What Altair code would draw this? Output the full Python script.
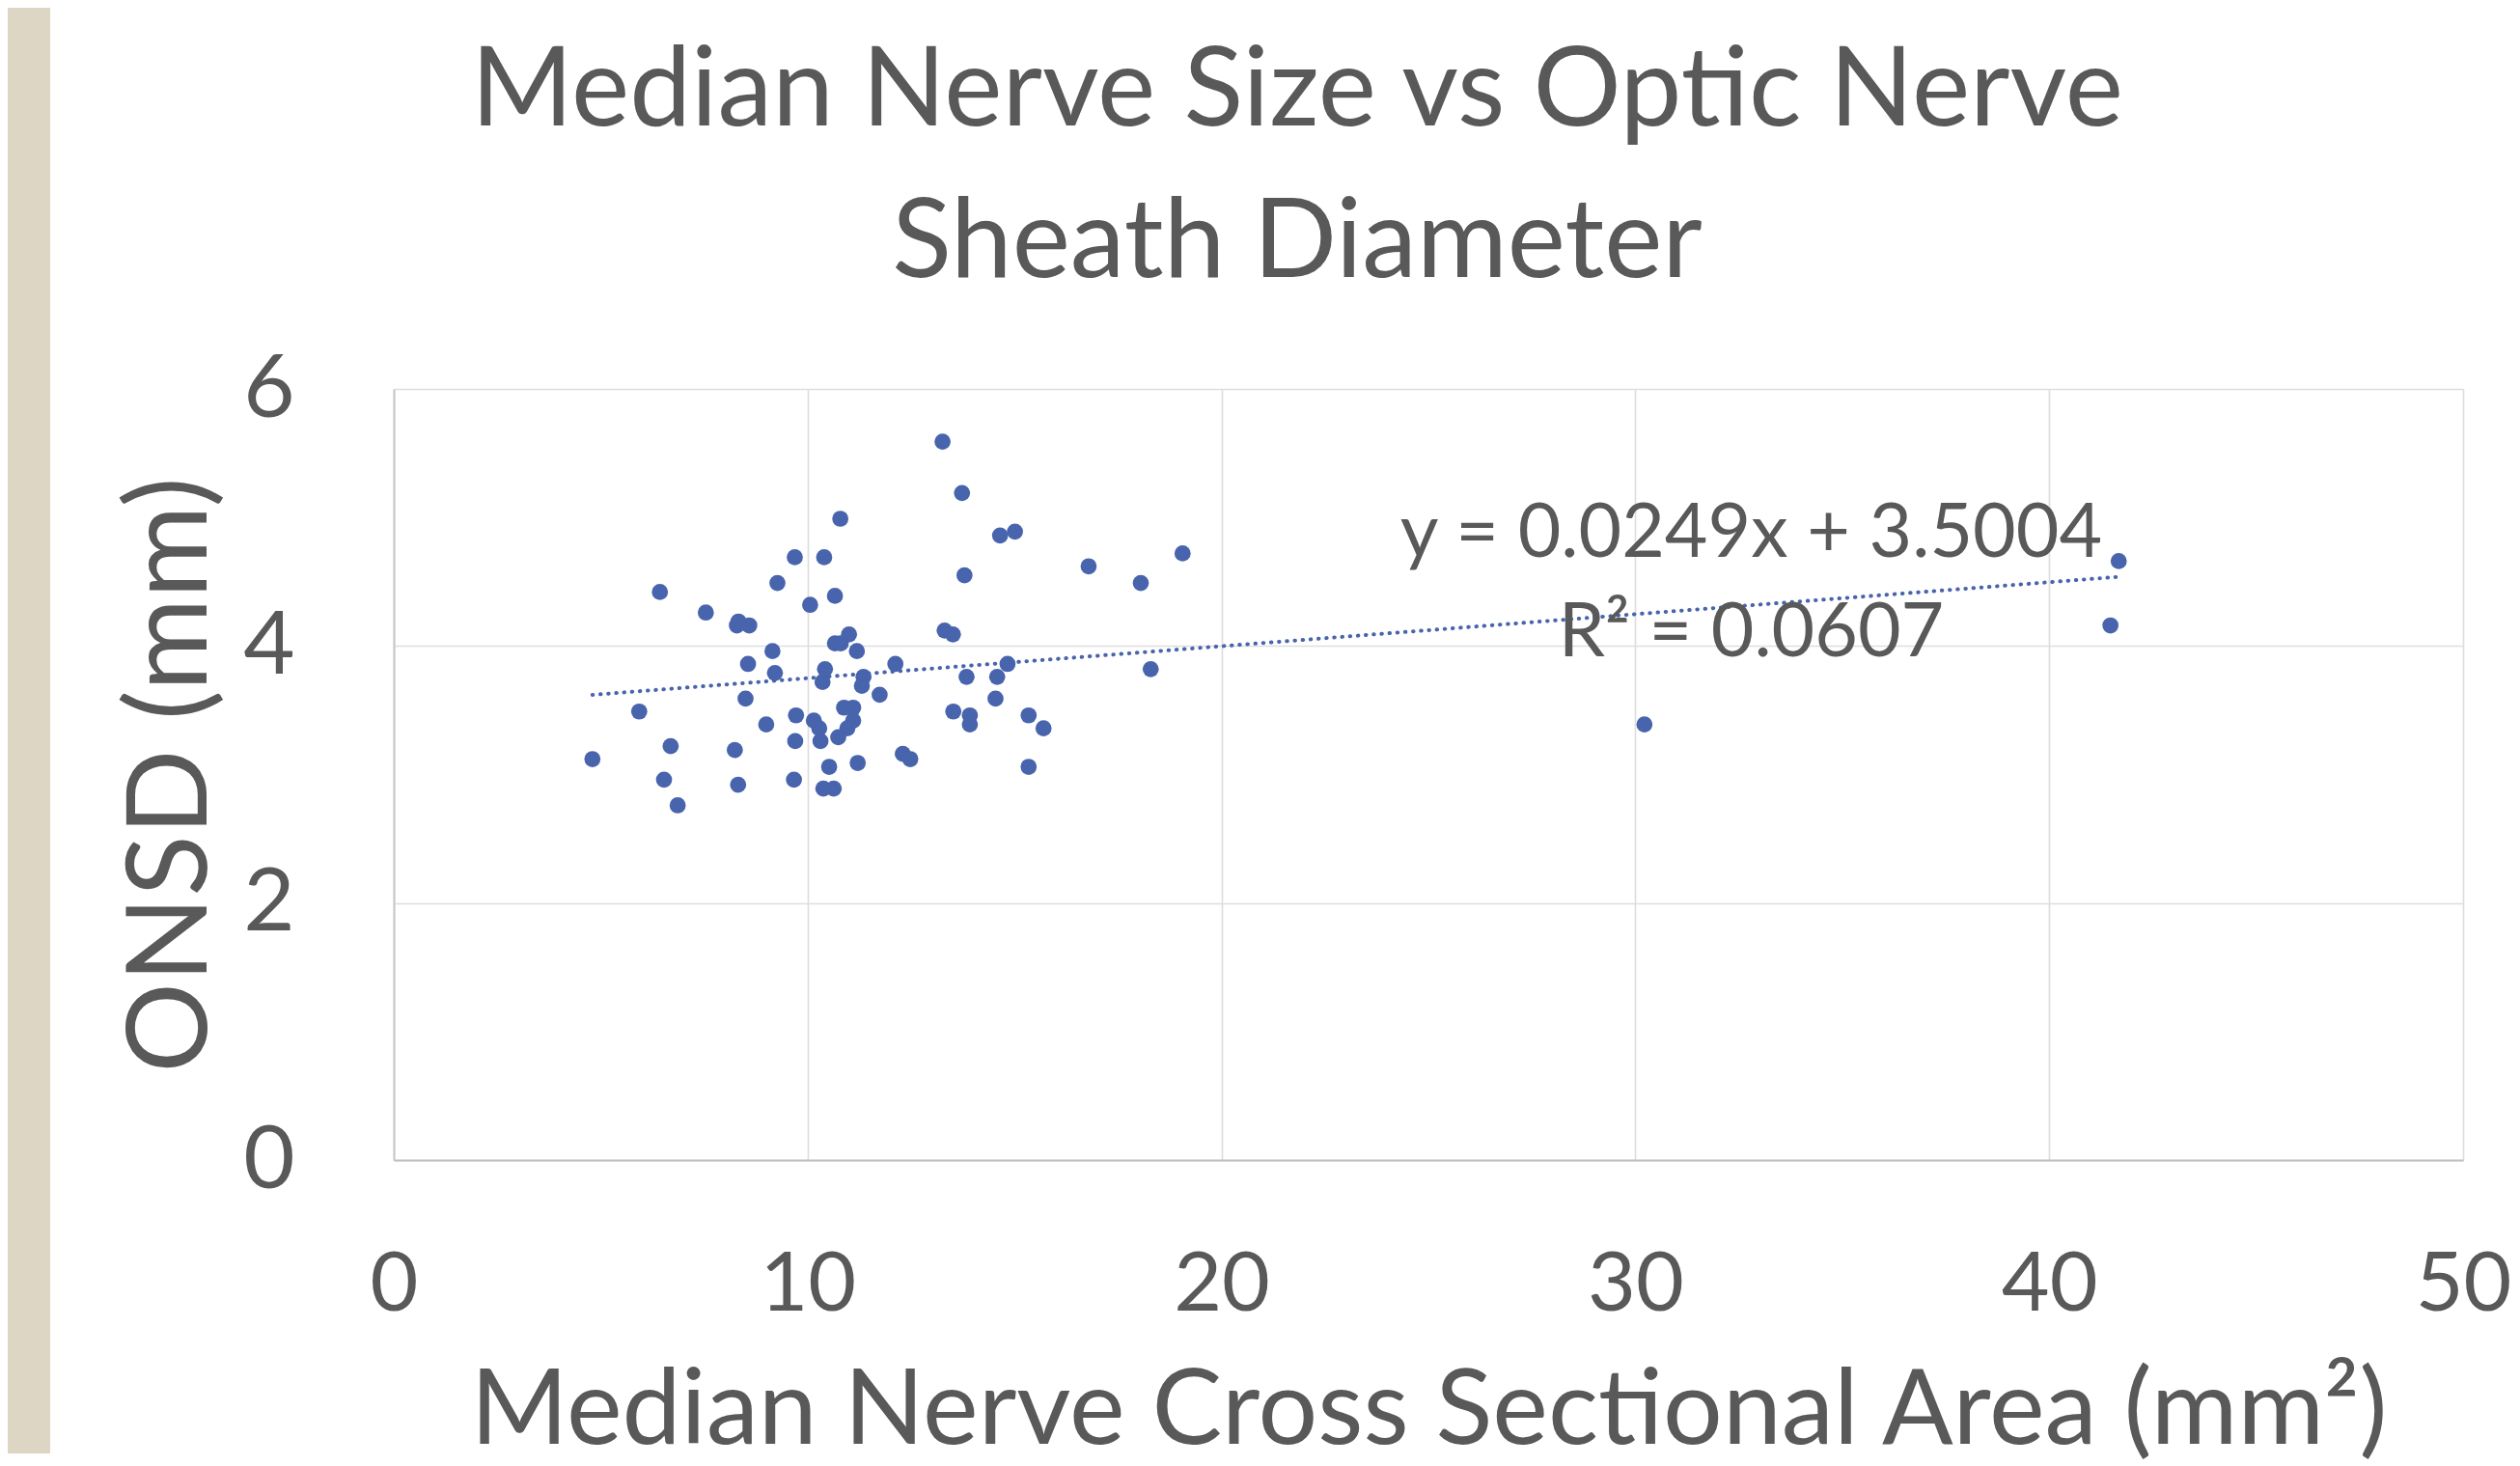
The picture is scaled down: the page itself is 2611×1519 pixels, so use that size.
import altair as alt
import pandas as pd

# Median nerve cross sectional area (mm^2)
csa = [13.26, 13.73, 10.79, 14.65, 15.01, 9.69, 10.40, 19.06, 16.79, 18.05,
       13.79, 9.27, 6.43, 10.66, 10.06, 7.54, 8.33, 8.29, 8.59, 13.31,
       13.51, 11.00, 10.66, 10.80, 9.15, 11.19, 8.56, 12.12, 14.83, 18.29,
       9.21, 10.42, 10.36, 11.35, 11.31, 13.84, 14.58, 11.74, 8.50, 14.54,
       5.93, 10.88, 11.10, 13.52, 9.72, 13.92, 15.34, 10.15, 11.10, 9.00,
       13.92, 10.28, 10.96, 15.70, 10.74, 9.70, 10.31, 6.69, 8.24, 4.80,
       12.30, 12.48, 11.21, 10.52, 15.34, 6.53, 9.67, 8.32, 10.38, 10.63,
       6.86, 41.68, 41.48, 30.22]
# Optic nerve sheath diameter (mm)
onsd = [5.59, 5.19, 4.99, 4.86, 4.89, 4.69, 4.69, 4.72, 4.62, 4.49,
        4.55, 4.49, 4.42, 4.39, 4.32, 4.26, 4.19, 4.16, 4.16, 4.12,
        4.09, 4.09, 4.02, 4.02, 3.96, 3.96, 3.86, 3.86, 3.86, 3.82,
        3.79, 3.82, 3.72, 3.76, 3.69, 3.76, 3.76, 3.62, 3.59, 3.59,
        3.49, 3.52, 3.52, 3.49, 3.46, 3.46, 3.46, 3.42, 3.42, 3.39,
        3.39, 3.36, 3.36, 3.36, 3.29, 3.26, 3.26, 3.22, 3.19, 3.12,
        3.16, 3.12, 3.09, 3.06, 3.06, 2.96, 2.96, 2.92, 2.89, 2.89,
        2.76, 4.66, 4.16, 3.39]

slope = 0.0249
intercept = 3.5004
r_squared = 0.0607

x_ticks = [0, 10, 20, 30, 40, 50]
y_ticks = [0, 2, 4, 6]

title_lines = ["Median Nerve Size vs Optic Nerve", "Sheath Diameter"]
x_title = "Median Nerve Cross Sectional Area (mm²)"
y_title = "ONSD (mm)"
eq_lines = [f"y = {slope}x + {intercept}", f"R² = {r_squared}"]

FONT = "Lato"
TXT = "#595959"
BLUE = "#4864AD"

df = pd.DataFrame({"csa": csa, "onsd": onsd})
trend_df = pd.DataFrame({"csa": [min(csa), max(csa)]})
eq_df = pd.DataFrame({"label": eq_lines, "x": [32.8, 32.8], "y": [4.69, 3.92]})

xs = alt.Scale(domain=[0, 50], nice=False)
ys = alt.Scale(domain=[0, 6], nice=False)

x_axis = alt.Axis(values=x_ticks, format="d", grid=True, gridColor="#DEDEDE", gridWidth=1.7,
                  domain=True, domainColor="#BFBFBF", domainWidth=2.2,
                  ticks=False, labelFontSize=86, labelPadding=87, labelFlush=False,
                  labelColor=TXT, labelFont=FONT, title=x_title, titleFont=FONT,
                  titleFontSize=109, titleFontWeight="normal", titleColor=TXT,
                  titleX=1072, titleY=293, titleBaseline="alphabetic", titleAnchor="middle")
y_axis = alt.Axis(values=y_ticks, format="d", grid=True, gridColor="#DEDEDE", gridWidth=1.7,
                  domain=True, domainColor="#C8C8C8", domainWidth=2,
                  ticks=False, labelFontSize=92, labelPadding=103, labelFlush=False,
                  labelColor=TXT, labelFont=FONT, title=y_title, titleFont=FONT,
                  titleFontSize=117, titleFontWeight="normal", titleColor=TXT,
                  titleAngle=270, titleX=-195, titleY=399.5, titleAlign="center",
                  titleBaseline="alphabetic")

points = alt.Chart(df).mark_circle(size=280, color=BLUE, opacity=1).encode(
    x=alt.X("csa:Q", scale=xs, axis=x_axis),
    y=alt.Y("onsd:Q", scale=ys, axis=y_axis),
)

trend = alt.Chart(trend_df).transform_calculate(
    onsd=f"{slope} * datum.csa + {intercept}"
).mark_line(color=BLUE, strokeWidth=4, strokeDash=[0.5, 7.7], strokeCap="round").encode(
    x=alt.X("csa:Q", scale=xs),
    y=alt.Y("onsd:Q", scale=ys),
)

eq = alt.Chart(eq_df).mark_text(font=FONT, fontSize=77, color=TXT, align="center",
                                baseline="alphabetic").encode(
    x=alt.X("x:Q", scale=xs),
    y=alt.Y("y:Q", scale=ys),
    text="label:N",
)

strip = alt.Chart(pd.DataFrame({"a": [0]})).mark_rect(color="#DED6C4").encode(
    x=alt.value(-400), x2=alt.value(-356), y=alt.value(-395), y2=alt.value(1103)
)

chart = alt.layer(strip, trend, points, eq).properties(
    width=2144, height=799, padding=0,
    title=alt.TitleParams(title_lines, font=FONT, fontSize=114, fontWeight="normal",
                          color=TXT, lineHeight=157, anchor="middle", dx=-136, offset=-303),
).configure_view(stroke=None).configure(background="white")

chart.save("out.html", embed_options={"renderer": "svg", "actions": False})
